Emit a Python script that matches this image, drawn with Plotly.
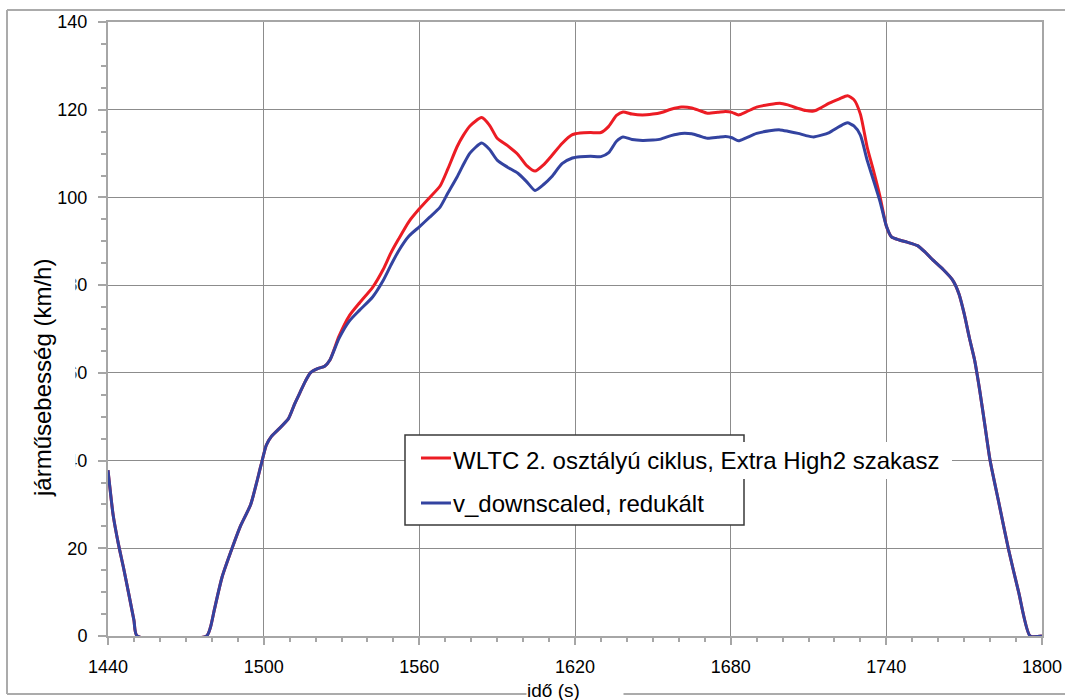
import plotly.graph_objects as go

# Time axis (s) and vehicle speed (km/h) for the two cycles
time_s = [1440, 1442, 1444, 1446, 1448, 1450, 1451.2, 1478, 1479.5, 1481, 1484, 1488,
          1491, 1495, 1499, 1501, 1503, 1505.5, 1509.5, 1512, 1514, 1516, 1518, 1521,
          1523.5, 1525.6, 1529, 1533, 1537, 1542, 1546, 1549, 1552, 1556, 1560, 1564,
          1568, 1571, 1574.5, 1577, 1579.5, 1584, 1587, 1590, 1594, 1598, 1601.5,
          1604.6, 1608, 1611, 1615, 1619, 1622, 1626, 1630, 1633, 1636, 1638.5, 1642,
          1646, 1650, 1653, 1657, 1661, 1665, 1668, 1671, 1675, 1678, 1680.5, 1683,
          1686, 1690, 1695, 1699, 1702, 1706, 1709, 1712, 1715, 1718, 1722, 1725,
          1727.5, 1730, 1732.6, 1735, 1737.6, 1740, 1742, 1745, 1748, 1752, 1755,
          1758, 1762, 1765.5, 1768, 1770, 1772, 1774, 1776, 1778, 1780, 1783.5, 1787,
          1791, 1795.4, 1800]

v_wltc = [37.8, 27.5, 21, 15.5, 9.6, 3.6, 0, 0, 2, 6, 13.5, 20.3,
          25, 30, 39, 43.5, 45.5, 47, 49.5, 53, 55.5, 58, 60, 61,
          61.5, 63, 68.3, 73, 76, 79.5, 83.5, 87.3, 90.5, 94.5, 97.4, 100,
          102.6, 106.5, 111.5, 114.2, 116.3, 118.2, 116.5, 113.5, 111.8, 109.8, 107.2,
          106, 107.5, 109.5, 112.3, 114.3, 114.7, 114.8, 114.8, 116.2, 118.7, 119.5, 119,
          118.8, 119, 119.3, 120.1, 120.6, 120.4, 119.8, 119.2, 119.4, 119.6, 119.4, 118.8,
          119.5, 120.6, 121.2, 121.5, 121.1, 120.3, 119.8, 119.7, 120.5, 121.5, 122.5, 123.2,
          122.3, 119, 111.5, 106.2, 100.1, 93.5, 91, 90.3, 89.8, 89, 87.5,
          85.7, 83.5, 81.2, 78, 73.5, 68, 63, 56, 48, 40, 30, 20,
          10, 0, 0]

v_downscaled = [37.8, 27.5, 21, 15.5, 9.6, 3.6, 0, 0, 2, 6, 13.5, 20.3,
                25, 30, 39, 43.5, 45.5, 47, 49.5, 53, 55.5, 58, 60, 61,
                61.5, 63, 67.8, 71.8, 74.3, 77.3, 81, 84.5, 87.8, 91.2, 93.3, 95.5,
                97.8, 101, 104.6, 107.5, 110.1, 112.4, 111, 108.5, 106.9, 105.5, 103.5,
                101.6, 103, 104.7, 107.7, 109, 109.3, 109.4, 109.3, 110.2, 112.8, 113.8, 113.2,
                113, 113.1, 113.3, 114.1, 114.6, 114.5, 114, 113.5, 113.7, 113.9, 113.6, 112.9,
                113.6, 114.6, 115.2, 115.4, 115.1, 114.6, 114.1, 113.8, 114.2, 114.8, 116.2, 117,
                116.3, 114.2, 108.5, 104, 99, 93.5, 91, 90.3, 89.8, 89, 87.5,
                85.7, 83.5, 81.2, 78, 73.5, 68, 63, 56, 48, 40, 30, 20,
                10, 0, 0]

x_ticks = [1440, 1500, 1560, 1620, 1680, 1740, 1800]
y_ticks = [0, 20, 40, 60, 80, 100, 120, 140]

label_wltc = "WLTC 2. osztályú ciklus, Extra High2 szakasz"
label_down = "v_downscaled, redukált"
y_title = "járműsebesség (km/h)"
x_title = "idő (s)"

RED = "#ec1c24"
BLUE = "#3343a0"
AXIS_GREY = "#a6a6a6"
GRID_GREY = "#8c8c8c"
FONT = "Liberation Sans, Arial, sans-serif"

W, H = 1065, 700
L, R, T, B = 108, 23, 22, 64


def fx(px):
    return (px - L) / (W - L - R)


def fy(py):
    return (H - B - py) / (H - T - B)


fig = go.Figure()
fig.add_trace(go.Scatter(x=time_s, y=v_wltc, mode="lines", name=label_wltc,
                         line=dict(color=RED, width=3, shape="spline", smoothing=0.6),
                         showlegend=False))
fig.add_trace(go.Scatter(x=time_s, y=v_downscaled, mode="lines", name=label_down,
                         line=dict(color=BLUE, width=3, shape="spline", smoothing=0.6),
                         showlegend=False))

fig.update_layout(
    width=W, height=H, autosize=False,
    margin=dict(l=L, r=R, t=T, b=B, pad=0),
    paper_bgcolor="white", plot_bgcolor="white",
    font=dict(family=FONT, color="black", size=18),
    xaxis=dict(range=[1440, 1800], tickmode="array", tickvals=x_ticks,
               showgrid=True, gridcolor=GRID_GREY, gridwidth=1.3,
               showline=True, linecolor=AXIS_GREY, linewidth=2, mirror=True,
               ticks="outside", ticklen=7, tickcolor=AXIS_GREY, tickwidth=1.5,
               minor=dict(dtick=10, tick0=1440, ticks="outside", ticklen=4,
                          tickcolor=AXIS_GREY, tickwidth=1.5, showgrid=False),
               tickfont=dict(size=18), ticklabelstandoff=6, zeroline=False,
               automargin=False),
    yaxis=dict(range=[0, 140], tickmode="array", tickvals=y_ticks,
               showgrid=True, gridcolor=GRID_GREY, gridwidth=1.3,
               showline=True, linecolor=AXIS_GREY, linewidth=2, mirror=True,
               ticks="outside", ticklen=8, tickcolor=AXIS_GREY, tickwidth=1.5,
               minor=dict(dtick=5, tick0=0, ticks="outside", ticklen=5,
                          tickcolor=AXIS_GREY, tickwidth=1.5, showgrid=False),
               tickfont=dict(size=18), ticklabelstandoff=7, zeroline=False,
               automargin=False),
    # companion axes carry the inward half of the crossing minor ticks
    xaxis2=dict(overlaying="x", anchor="y", side="bottom", range=[1440, 1800],
                tickmode="linear", tick0=1440, dtick=10, ticks="inside", ticklen=4,
                tickcolor=AXIS_GREY, tickwidth=1.5, showticklabels=False,
                showgrid=False, showline=False, zeroline=False, automargin=False),
    yaxis2=dict(overlaying="y", anchor="x", side="left", range=[0, 140],
                tickmode="linear", tick0=0, dtick=5, ticks="inside", ticklen=4,
                tickcolor=AXIS_GREY, tickwidth=1.5, showticklabels=False,
                showgrid=False, showline=False, zeroline=False, automargin=False),
)

shapes = []
# outer frame (top, left, bottom)
frame = dict(type="line", xref="paper", yref="paper", line=dict(color="#ababab", width=2))
shapes.append(dict(frame, x0=fx(7), x1=fx(W), y0=fy(10), y1=fy(10)))
shapes.append(dict(frame, x0=fx(7), x1=fx(7), y0=fy(10), y1=fy(694)))
shapes.append(dict(frame, x0=fx(7), x1=fx(W), y0=fy(694), y1=fy(694)))

# legend box
shapes.append(dict(type="rect", xref="paper", yref="paper", layer="above",
                   x0=fx(405), x1=fx(744), y0=fy(435), y1=fy(525),
                   fillcolor="white", line=dict(color="#3a3a3a", width=1.5)))
# white band behind the first (overflowing) legend entry
shapes.append(dict(type="rect", xref="paper", yref="paper", layer="above",
                   x0=fx(406), x1=fx(952), y0=fy(442), y1=fy(479),
                   fillcolor="white", line=dict(width=0)))
shapes.append(dict(type="line", xref="paper", yref="paper", layer="above",
                   x0=fx(421), x1=fx(451), y0=fy(458), y1=fy(458),
                   line=dict(color=RED, width=3)))
shapes.append(dict(type="line", xref="paper", yref="paper", layer="above",
                   x0=fx(421), x1=fx(451), y0=fy(503), y1=fy(503),
                   line=dict(color=BLUE, width=3)))
fig.update_layout(shapes=shapes)

annotations = [
    dict(text=label_wltc, xref="paper", yref="paper", x=fx(451), y=fy(460),
         xanchor="left", yanchor="middle", showarrow=False,
         font=dict(size=24, family=FONT, color="black")),
    dict(text=label_down, xref="paper", yref="paper", x=fx(451), y=fy(503),
         xanchor="left", yanchor="middle", showarrow=False,
         font=dict(size=24, family=FONT, color="black")),
    dict(text=y_title, xref="paper", yref="paper", x=fx(42), y=fy(378),
         xanchor="center", yanchor="middle", showarrow=False, textangle=-90,
         height=66, bgcolor="white", borderpad=0,
         font=dict(size=24, family=FONT, color="black")),
    dict(text=x_title, xref="paper", yref="paper", x=fx(526), y=fy(690),
         xanchor="left", yanchor="middle", showarrow=False, width=96, align="left",
         bgcolor="white", borderpad=0,
         font=dict(size=19, family=FONT, color="black")),
]
fig.update_layout(annotations=annotations)

page_css = ("document.documentElement.style.margin='0';"
            "document.documentElement.style.overflow='hidden';"
            "document.body.style.margin='0';"
            "document.body.style.overflow='hidden';")
fig.write_html("out.html", config={"responsive": False}, post_script=page_css)
